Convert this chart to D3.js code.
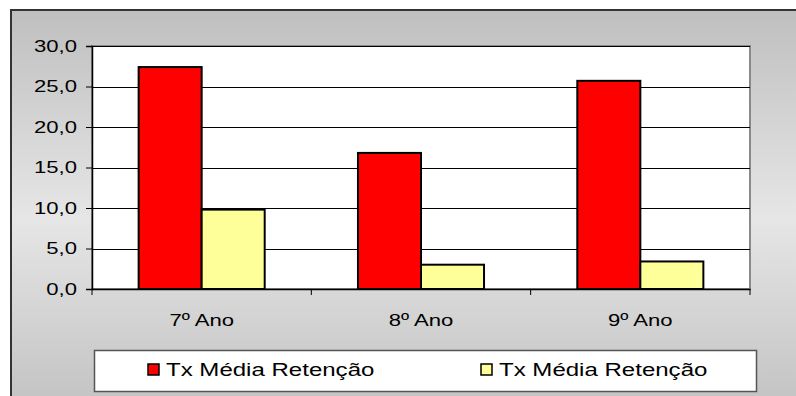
<!DOCTYPE html>
<html>
<head>
<meta charset="utf-8">
<script src="https://cdn.jsdelivr.net/npm/d3@7"></script>
<style>
  html, body { margin: 0; padding: 0; background: #fff; }
  svg { display: block; }
  text { font-family: "Liberation Sans", Arial, sans-serif; fill: #000; }
</style>
</head>
<body>
<svg id="chart" width="796" height="396"></svg>
<script>
// Data
const categories = ["7º Ano", "8º Ano", "9º Ano"];
const seriesNames = ["Tx Média Retenção", "Tx Média Retenção"];
const seriesA = [27.4, 16.8, 25.7];
const seriesB = [9.8, 3.0, 3.4];
const yTicks = [0, 5, 10, 15, 20, 25, 30];
const seriesColors = ["#ff0000", "#ffff99"];

const svg = d3.select("#chart");
const W = 796, H = 396;

// Chart area with vertical grey gradient
const defs = svg.append("defs");
const grad = defs.append("linearGradient")
  .attr("id", "bg").attr("x1", 0).attr("y1", 0).attr("x2", 0).attr("y2", 1);
grad.append("stop").attr("offset", "0%").attr("stop-color", "#bfbfbf");
grad.append("stop").attr("offset", "50%").attr("stop-color", "#e6e6e6");
grad.append("stop").attr("offset", "100%").attr("stop-color", "#bfbfbf");

svg.append("rect")
  .attr("x", 11).attr("y", 10).attr("width", W + 20).attr("height", H + 20)
  .attr("fill", "url(#bg)")
  .attr("stroke", "#333").attr("stroke-width", 2);

// Plot area
const plot = { left: 92, top: 46, right: 750, bottom: 289 };

svg.append("rect")
  .attr("x", plot.left).attr("y", plot.top)
  .attr("width", plot.right - plot.left).attr("height", plot.bottom - plot.top)
  .attr("fill", "#fff").attr("stroke", "#8a8a8a").attr("stroke-width", 2);

const x = d3.scaleBand().domain(categories).range([plot.left, plot.right]).paddingInner(0).paddingOuter(0);
const xSeries = d3.scaleBand().domain([0, 1]).range([0, x.bandwidth()]).paddingInner(0).paddingOuter(0.74);
const y = d3.scaleLinear().domain([0, 30]).range([plot.bottom, plot.top]);

const locale = d3.formatLocale({ decimal: ",", thousands: ".", grouping: [3], currency: ["", ""] });
const fmt = locale.format(".1f");

const sx = 1.3; // horizontal stretch of the lettering

// Gridlines
svg.append("g").selectAll("line").data(yTicks.filter(d => d > 0)).join("line")
  .attr("x1", plot.left).attr("x2", plot.right)
  .attr("y1", d => Math.round(y(d)) + 0.5).attr("y2", d => Math.round(y(d)) + 0.5)
  .attr("stroke", "#000").attr("stroke-width", 1);

// Bars
const data = [seriesA, seriesB];
data.forEach((vals, si) => {
  svg.append("g").selectAll("rect").data(vals).join("rect")
    .attr("x", (d, i) => x(categories[i]) + xSeries(si))
    .attr("y", d => y(d))
    .attr("width", xSeries.bandwidth())
    .attr("height", d => y(0) - y(d))
    .attr("fill", seriesColors[si])
    .attr("stroke", "#000").attr("stroke-width", 2);
});

// Y axis
const yAxis = svg.append("g")
  .attr("transform", `translate(${plot.left},0)`)
  .call(d3.axisLeft(y).tickValues(yTicks).tickSize(6).tickPadding(6).tickFormat(fmt));
yAxis.select(".domain").attr("stroke", "#000").attr("stroke-width", 1.5);
yAxis.selectAll(".tick line").attr("stroke", "#000");
yAxis.selectAll(".tick text")
  .attr("font-size", 17).attr("fill", "#000")
  .attr("font-family", "Liberation Sans, Arial, sans-serif")
  .each(function () {
    const t = d3.select(this);
    const xx = +t.attr("x");
    t.attr("transform", `translate(${xx - 3},0) scale(${sx},1)`).attr("x", 0);
  });

// X axis
const xAxis = svg.append("g")
  .attr("transform", `translate(0,${plot.bottom})`)
  .call(d3.axisBottom(x).tickSize(0).tickPadding(0));
xAxis.select(".domain").attr("stroke", "#000").attr("stroke-width", 1.5);
xAxis.selectAll(".tick text").remove();
// Tick marks at category boundaries
const bounds = categories.map(c => x(c)).concat([x(categories[categories.length - 1]) + x.bandwidth()]);
xAxis.selectAll("line.bound").data(bounds).join("line")
  .attr("class", "bound")
  .attr("x1", d => d).attr("x2", d => d).attr("y1", 0).attr("y2", 6)
  .attr("stroke", "#000");
// Category labels
svg.append("g").selectAll("text").data(categories).join("text")
  .attr("transform", d => `translate(${x(d) + x.bandwidth() / 2},326) scale(${sx},1)`)
  .attr("text-anchor", "middle")
  .attr("font-size", 17)
  .text(d => d);

// Legend
const legend = svg.append("g");
legend.append("rect")
  .attr("x", 94.5).attr("y", 350.5).attr("width", 662).attr("height", 41)
  .attr("fill", "#fff").attr("stroke", "#555").attr("stroke-width", 1.5);
const legendX = [148, 481];
seriesNames.forEach((name, i) => {
  legend.append("rect")
    .attr("x", legendX[i]).attr("y", 364).attr("width", 11).attr("height", 11)
    .attr("fill", seriesColors[i]).attr("stroke", "#000").attr("stroke-width", 1.5);
  legend.append("text")
    .attr("transform", `translate(${legendX[i] + 18},376) scale(1.3,1)`)
    .attr("font-size", 18.5)
    .text(name);
});
</script>
</body>
</html>
